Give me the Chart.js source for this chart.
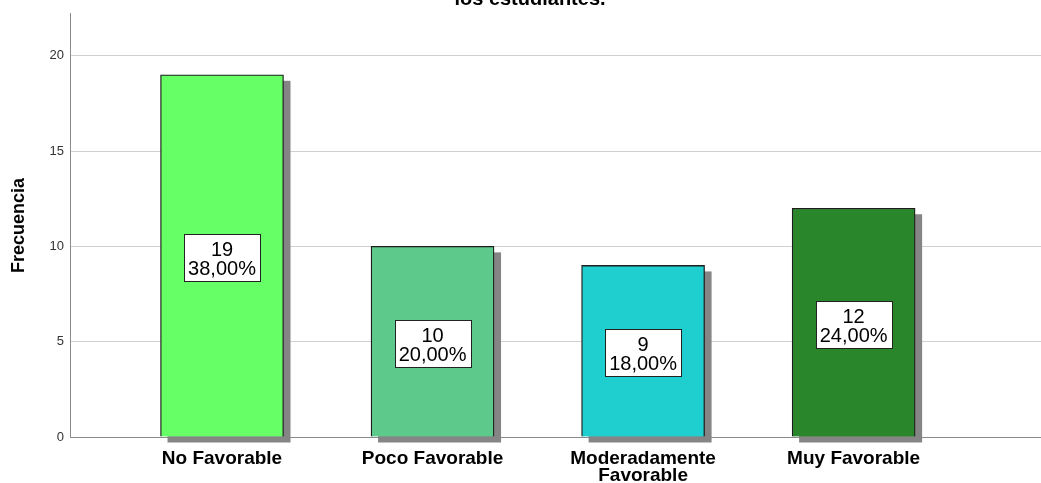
<!DOCTYPE html>
<html lang="es">
<head>
    <meta charset="UTF-8">
    <title>Frecuencia</title>
    <script src="https://cdn.jsdelivr.net/npm/chart.js"></script>
    <style>
        html, body { margin: 0; padding: 0; background: #fff; }
        .chart-wrapper { width: 1041px; height: 483px; position: relative; }
    </style>
</head>
<body>
    <div class="chart-wrapper">
        <canvas id="freqChart"></canvas>
    </div>

    <script>
        // datos del gráfico
        const categorias = ['No Favorable', 'Poco Favorable', ['Moderadamente', 'Favorable'], 'Muy Favorable'];
        const frecuencias = [19, 10, 9, 12];
        const porcentajes = ['38,00%', '20,00%', '18,00%', '24,00%'];
        const colores = ['#66ff66', '#5dca8c', '#1fcfcf', '#2a862a'];
        const ticksY = [0, 5, 10, 15, 20];

        const fuente = '"Liberation Sans", Arial, sans-serif';

        // sombra gris detrás de cada barra
        const sombraBarras = {
            id: 'sombraBarras',
            beforeDatasetsDraw(chart) {
                const ctx = chart.ctx;
                ctx.save();
                ctx.fillStyle = '#858585';
                chart.getDatasetMeta(0).data.forEach(bar => {
                    const p = bar.getProps(['x', 'y', 'width', 'base'], true);
                    ctx.fillRect(p.x - p.width / 2 + 7, p.y + 6, p.width, p.base - p.y);
                });
                ctx.restore();
            }
        };

        // etiquetas con recuadro blanco en el centro de la barra
        const etiquetas = {
            id: 'etiquetas',
            afterDatasetsDraw(chart) {
                const ctx = chart.ctx;
                ctx.save();
                ctx.textAlign = 'center';
                ctx.textBaseline = 'middle';
                chart.getDatasetMeta(0).data.forEach((bar, i) => {
                    const p = bar.getProps(['x', 'y', 'base'], true);
                    const cy = (p.y + p.base) / 2 + 2;
                    const w = 76, h = 47;
                    const bx = Math.round(p.x - w / 2), by = Math.round(cy - h / 2);
                    ctx.fillStyle = '#fff';
                    ctx.fillRect(bx, by, w, h);
                    ctx.strokeStyle = '#222';
                    ctx.lineWidth = 1;
                    ctx.strokeRect(bx + 0.5, by + 0.5, w, h);
                    ctx.fillStyle = '#000';
                    ctx.font = '20px ' + fuente;
                    ctx.fillText(String(frecuencias[i]), p.x, cy - 7);
                    ctx.fillText(porcentajes[i], p.x, cy + 12);
                });
                ctx.restore();
            }
        };

        // título cortado arriba
        const tituloCortado = {
            id: 'tituloCortado',
            afterDraw(chart) {
                const ctx = chart.ctx;
                ctx.save();
                ctx.font = 'bold 20px ' + fuente;
                ctx.fillStyle = '#000';
                ctx.textAlign = 'center';
                ctx.textBaseline = 'alphabetic';
                ctx.fillText('los estudiantes.', 530, 5);
                ctx.restore();
            }
        };

        window.onload = function() {
            new Chart(document.getElementById('freqChart'), {
                type: 'bar',
                data: {
                    datasets: [{
                        label: 'Frecuencia',
                        data: frecuencias.map((v, i) => ({ x: i, y: v })),
                        backgroundColor: colores,
                        borderColor: '#1e1e1e',
                        borderWidth: 1.3,
                        barThickness: 123
                    }]
                },
                options: {
                    responsive: true,
                    maintainAspectRatio: false,
                    animation: false,
                    layout: { padding: { top: 13, right: 0, left: 0, bottom: 0 } },
                    plugins: {
                        legend: { display: false },
                        tooltip: { enabled: false }
                    },
                    scales: {
                        x: {
                            type: 'linear',
                            min: -0.722,
                            max: 3.89,
                            offset: false,
                            grid: { display: false, drawTicks: false, offset: false },
                            border: { color: '#8a8a8a', width: 1 },
                            afterFit(scale) { scale.height = 46; },
                            afterBuildTicks(scale) { scale.ticks = categorias.map((c, i) => ({ value: i })); },
                            ticks: {
                                padding: 13,
                                maxRotation: 0,
                                autoSkip: false,
                                color: '#000',
                                font: { family: fuente, size: 19, weight: 'bold', lineHeight: 0.92 },
                                callback: v => categorias[v]
                            }
                        },
                        y: {
                            min: 0,
                            max: 22.2,
                            afterFit(scale) { scale.width = 70; },
                            afterBuildTicks(scale) { scale.ticks = ticksY.map(v => ({ value: v })); },
                            grid: { color: '#d0d0d0', lineWidth: 1, drawTicks: false },
                            border: { color: '#8a8a8a', width: 1 },
                            title: {
                                display: true,
                                text: 'Frecuencia',
                                color: '#000',
                                font: { family: fuente, size: 18, weight: 'bold' },
                                padding: { top: 8, bottom: 0 }
                            },
                            ticks: {
                                padding: 6,
                                color: '#333',
                                font: { family: fuente, size: 13 }
                            }
                        }
                    }
                },
                plugins: [sombraBarras, etiquetas, tituloCortado]
            });
        };
    </script>
</body>
</html>
